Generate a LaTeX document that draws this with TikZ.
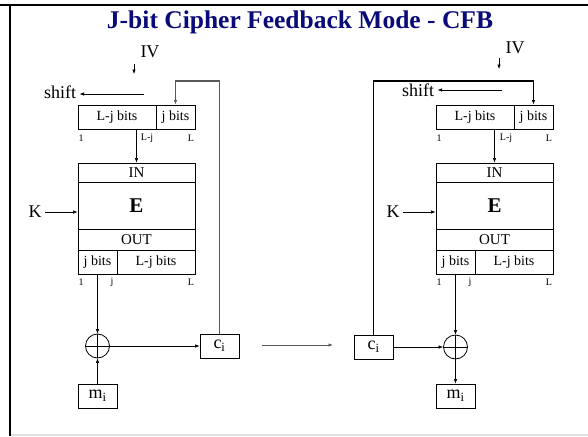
\documentclass[tikz,border=0pt]{standalone}
\usepackage{fontspec}
\setmainfont{Liberation Serif}
\usepackage{xcolor}
\usetikzlibrary{arrows.meta,positioning,calc}

\definecolor{titleblue}{RGB}{10,10,120}

\tikzset{
    box/.style={draw, line width=0.9pt, inner sep=0pt},
    arr/.style={-{Latex[length=4.5pt,width=3.5pt]}, line width=0.6pt},
    fb/.style={line width=1.1pt, draw=black!65},
    lbl/.style={font=\fontsize{18}{18}\selectfont},
    bits/.style={font=\fontsize{14}{14}\selectfont},
    band/.style={font=\fontsize{15}{15}\selectfont},
    tiny/.style={font=\fontsize{10}{10}\selectfont}
}

\begin{document}
\begin{tikzpicture}[x=1pt, y=-1pt]
    \useasboundingbox (0,0) rectangle (588,436);

    % frame
    \draw[line width=2.5pt] (0,5) -- (588,5);
    \draw[line width=2.5pt] (10,4) -- (10,436);
    \draw[line width=1.5pt, black!12] (11,435) -- (588,435);

    % title
    \node[font=\bfseries\fontsize{25.5}{25.5}\selectfont, text=titleblue] (title) at (300,22) {J-bit Cipher Feedback Mode - CFB};

    % ---------- encryption ----------
    % shift register
    \node[box, bits, minimum width=78pt, minimum height=24pt] (ljA) at (117,117) {L-j bits};
    \node[box, bits, minimum width=39pt, minimum height=24pt] (jbA) at (175.5,117) {j bits};
    \node[tiny] (r1A) at (81,138) {1};
    \node[tiny] (rljA) at (147,138) {L-j};
    \node[tiny] (rLA) at (191,138) {L};

    % IV and shift
    \node[lbl] (ivA) at (150,52) {IV};
    \coordinate (ivAs) at (134,64);
    \draw[arr] (ivAs) -- ++(0,10);
    \node[lbl] (shA) at (60,92) {shift};
    \coordinate (shAs) at (144,94);
    \draw[arr] (shAs) -- (shAs -| shA.east);

    % block cipher
    \node[box, band, minimum width=117pt, minimum height=19pt] (inA) at (136.5,172.5) {IN};
    \node[box, font=\bfseries\fontsize{21}{21}\selectfont, minimum width=117pt, minimum height=47pt] (eA) at (136.5,205.5) {E};
    \node[box, band, minimum width=117pt, minimum height=21pt] (outA) at (136.5,239.5) {OUT};
    \node[box, bits, minimum width=39pt, minimum height=24pt] (ojA) at (97.5,262) {j bits};
    \node[box, bits, minimum width=78pt, minimum height=24pt] (oljA) at (156,262) {L-j bits};
    \node[tiny] (o1A) at (81,282) {1};
    \node[tiny] (ojjA) at (112,282) {j};
    \node[tiny] (oLA) at (191,282) {L};
    \draw[arr] (inA.north |- ljA.south) -- (inA.north);

    % key
    \node[lbl] (kA) at (35,212) {K};
    \draw[arr] (kA) -- (kA -| eA.west);

    % xor, plaintext, ciphertext
    \node[draw, circle, line width=0.8pt, minimum size=24pt, inner sep=0pt] (xorA) at (97.5,346) {};
    \draw[line width=0.8pt] (xorA.north) -- (xorA.south) (xorA.west) -- (xorA.east);
    \node[box, lbl, minimum width=39pt, minimum height=24pt] (miA) at (97.5,396) {m\textsubscript{i}};
    \node[box, lbl, minimum width=39pt, minimum height=24pt] (ciA) at (219.5,346) {c\textsubscript{i}};
    \draw[arr] (ojA.south) -- (xorA.north);
    \draw[arr] (miA.north) -- (xorA.south);
    \draw[arr] (xorA.east) -- (ciA.west);

    % feedback
    \coordinate (topA) at (219.5,81);
    \draw[fb, arr, line width=1.1pt] (ciA.north) -- (topA) -| (jbA.north);

    % transmission
    \coordinate (midA) at (262,345);
    \coordinate (midB) at (333,345);
    \draw[arr, draw=black!65, line width=0.9pt] (midA) -- (midB);

    % ---------- decryption ----------
    % shift register
    \node[box, bits, minimum width=78pt, minimum height=24pt] (ljB) at (475,117) {L-j bits};
    \node[box, bits, minimum width=39pt, minimum height=24pt] (jbB) at (533.5,117) {j bits};
    \node[tiny] (r1B) at (439,138) {1};
    \node[tiny] (rljB) at (506,138) {L-j};
    \node[tiny] (rLB) at (549,138) {L};

    % IV and shift
    \node[lbl] (ivB) at (515,48) {IV};
    \coordinate (ivBs) at (499,58);
    \draw[arr] (ivBs) -- ++(0,11);
    \node[lbl] (shB) at (418,90) {shift};
    \coordinate (shBs) at (502,90);
    \draw[arr] (shBs) -- (shBs -| shB.east);

    % block cipher
    \node[box, band, minimum width=117pt, minimum height=19pt] (inB) at (494.5,172.5) {IN};
    \node[box, font=\bfseries\fontsize{21}{21}\selectfont, minimum width=117pt, minimum height=47pt] (eB) at (494.5,205.5) {E};
    \node[box, band, minimum width=117pt, minimum height=21pt] (outB) at (494.5,239.5) {OUT};
    \node[box, bits, minimum width=39pt, minimum height=24pt] (ojB) at (455.5,262) {j bits};
    \node[box, bits, minimum width=78pt, minimum height=24pt] (oljB) at (514,262) {L-j bits};
    \node[tiny] (o1B) at (439,282) {1};
    \node[tiny] (ojjB) at (470,282) {j};
    \node[tiny] (oLB) at (549,282) {L};
    \draw[arr] (inB.north |- ljB.south) -- (inB.north);

    % key
    \node[lbl] (kB) at (393,212) {K};
    \draw[arr] (kB) -- (kB -| eB.west);

    % ciphertext, xor, plaintext
    \node[box, lbl, minimum width=39pt, minimum height=24pt] (ciB) at (373.5,347) {c\textsubscript{i}};
    \node[draw, circle, line width=0.8pt, minimum size=24pt, inner sep=0pt] (xorB) at (455.5,347) {};
    \draw[line width=0.8pt] (xorB.north) -- (xorB.south) (xorB.west) -- (xorB.east);
    \node[box, lbl, minimum width=39pt, minimum height=24pt] (miB) at (455.5,396) {m\textsubscript{i}};
    \draw[arr] (ojB.south) -- (xorB.north);
    \draw[arr] (ciB.east) -- (xorB.west);
    \draw[arr] (xorB.south) -- (miB.north);

    % feedback
    \coordinate (topB) at (373.5,81);
    \draw[arr, line width=1.1pt] (ciB.north) -- (topB) -| (jbB.north);
\end{tikzpicture}
\end{document}
